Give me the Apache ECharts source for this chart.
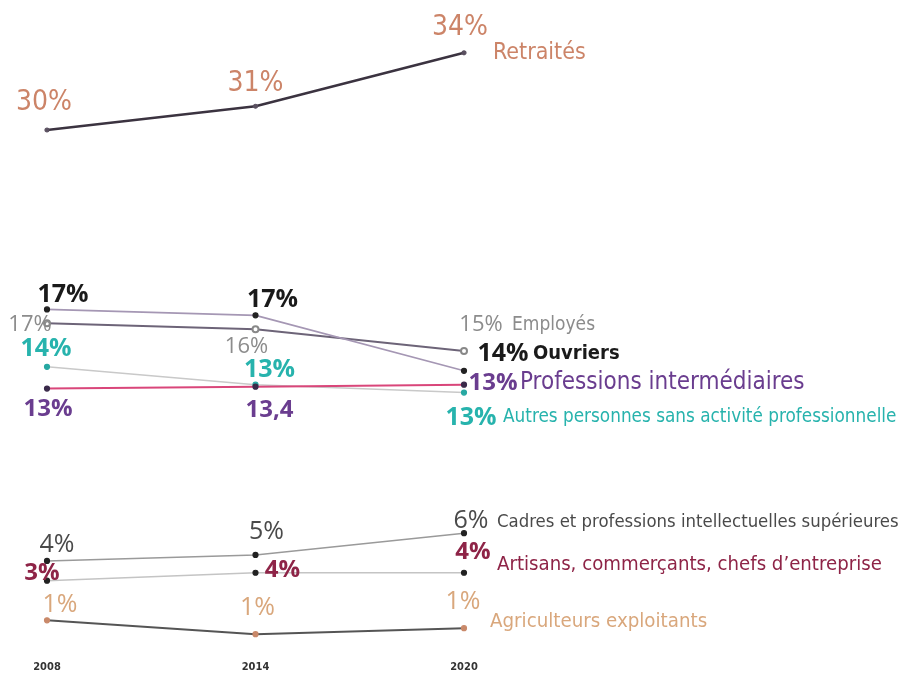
<!DOCTYPE html>
<html><head><meta charset="utf-8">
<script src="https://cdn.jsdelivr.net/npm/echarts@6/dist/echarts.min.js"></script>
<style>html,body{margin:0;padding:0;background:#fff}#c{width:912px;height:683px}</style>
</head><body><div id="c"></div>
<script>
// ---- data ----
const years = ['2008', '2014', '2020'];
const retraites = [30.0, 31.2, 33.9];
const retraitesLabels = ['30%', '31%', '34%'];
const ouvriers = [17.1, 16.8, 14.0];
const ouvriersLabels = ['17%', '17%', '14%'];
const employes = [16.4, 16.1, 15.0];
const employesLabels = ['17%', '16%', '15%'];
const autres = [14.2, 13.3, 12.9];
const autresLabels = ['14%', '13%', '13%'];
const profInter = [13.1, 13.2, 13.3];
const profInterLabels = ['13%', '13,4', '13%'];
const cadres = [4.4, 4.7, 5.8];
const cadresLabels = ['4%', '5%', '6%'];
const artisans = [3.4, 3.8, 3.8];
const artisansLabels = ['3%', '4%', '4%'];
const agriculteurs = [1.4, 0.7, 1.0];
const agriculteursLabels = ['1%', '1%', '1%'];

// ---- style ----
const NARROW = "'Liberation Sans Narrow','DejaVu Sans Condensed','Roboto Condensed',Roboto,sans-serif";
const SANS = "'Open Sans','Noto Sans',sans-serif";

function mk(name, data, labels, o) {
  return {
    name: name, type: 'line', xAxisIndex: o.grid, yAxisIndex: o.grid,
    data: data.map((v, i) => ({
      value: v,
      label: {
        show: true, position: 'inside', formatter: labels[i],
        offset: o.offsets[i], color: o.numColor, fontSize: o.numSize,
        fontWeight: o.numWeight, fontFamily: o.numFont
      }
    })),
    symbol: o.symbol || 'circle', symbolSize: o.symbolSize || 5,
    itemStyle: { color: o.dotColor, borderColor: o.dotColor, borderWidth: 1.2 },
    lineStyle: { color: o.lineColor, width: o.lineWidth || 1.5 },
    endLabel: {
      show: true, formatter: name, offset: o.nameOffset, color: o.nameColor || o.numColor,
      fontSize: o.nameSize, fontWeight: o.nameWeight || 'normal', fontFamily: NARROW
    },
    silent: true, animation: false, z: o.z || 2
  };
}

const series = [
  mk('Retraités', retraites, retraitesLabels, {
    grid: 0, offsets: [[-3, -27], [0, -23], [-4, -25]], numColor: '#cc8468', numSize: 28,
    numWeight: 'normal', numFont: NARROW, dotColor: '#5a5060', lineColor: '#3b3340', lineWidth: 2.5,
    nameOffset: [21, 0], nameSize: 23, symbolSize: 4
  }),
  mk('Ouvriers', ouvriers, ouvriersLabels, {
    grid: 1, offsets: [[16, -15], [17, -15], [39, -17]], numColor: '#1a1a1a', numSize: 25,
    numWeight: 'bold', numFont: SANS, dotColor: '#222', lineColor: '#a597b4', lineWidth: 1.6,
    nameOffset: [61, -17], nameSize: 20, nameWeight: 'bold', z: 4
  }),
  mk('Employés', employes, employesLabels, {
    grid: 1, offsets: [[-17, 1], [-9, 18], [17, -26]], numColor: '#8c8c8c', numSize: 22,
    numWeight: 'normal', numFont: SANS, dotColor: '#888', lineColor: '#6d6478', lineWidth: 2,
    symbol: 'emptyCircle', symbolSize: 6, nameOffset: [40, -26], nameSize: 19, z: 3
  }),
  mk('Autres personnes sans activité professionnelle', autres, autresLabels, {
    grid: 1, offsets: [[-1, -18], [14, -15], [7, 25]], numColor: '#27b3ad', numSize: 25,
    numWeight: 'bold', numFont: SANS, dotColor: '#27a8a2', lineColor: '#c9c9c9', lineWidth: 1.5,
    nameOffset: [31, 25], nameSize: 18.8
  }),
  mk('Professions intermédiaires', profInter, profInterLabels, {
    grid: 1, offsets: [[1, 21], [14, 24], [29, -2]], numColor: '#6a3d8f', numSize: 24,
    numWeight: 'bold', numFont: SANS, dotColor: '#3a2a4a', lineColor: '#d9467a', lineWidth: 2,
    nameOffset: [48, -2], nameSize: 24, z: 3
  }),
  mk('Cadres et professions intellectuelles supérieures', cadres, cadresLabels, {
    grid: 1, offsets: [[10, -16], [11, -23], [7, -12]], numColor: '#4a4a4a', numSize: 25,
    numWeight: 'normal', numFont: SANS, dotColor: '#222', lineColor: '#9a9a9a', lineWidth: 1.5,
    nameOffset: [25, -11], nameSize: 18.4
  }),
  mk("Artisans, commerçants, chefs d\u2019entreprise", artisans, artisansLabels, {
    grid: 1, offsets: [[-5, -8], [27, -3], [9, -21]], numColor: '#8e2447', numSize: 24,
    numWeight: 'bold', numFont: SANS, dotColor: '#222', lineColor: '#c4c4c4', lineWidth: 1.5,
    nameOffset: [25, -8], nameSize: 20.2
  }),
  mk('Agriculteurs exploitants', agriculteurs, agriculteursLabels, {
    grid: 1, offsets: [[13, -15], [2, -26], [-1, -26]], numColor: '#d9a77c', numSize: 25,
    numWeight: 'normal', numFont: SANS, dotColor: '#c9896a', lineColor: '#555', lineWidth: 2,
    nameOffset: [18, -6], nameSize: 20.3
  })
];

const chart = echarts.init(document.getElementById('c'), null, { renderer: 'canvas' });
chart.setOption({
  backgroundColor: '#fff',
  animation: false,
  grid: [
    { left: 47, width: 417, top: 11.2, height: 158.4 },
    { left: 47, width: 417, top: 291.6, height: 356.4 }
  ],
  xAxis: [
    { gridIndex: 0, type: 'category', data: years, boundaryGap: false, show: false },
    { gridIndex: 1, type: 'category', data: years, boundaryGap: false,
      axisLine: { show: false }, axisTick: { show: false }, splitLine: { show: false },
      axisLabel: { margin: 14, color: '#333', fontSize: 11, fontWeight: 'bold', fontFamily: NARROW } }
  ],
  yAxis: [
    { gridIndex: 0, type: 'value', min: 28, max: 36, show: false, splitLine: { show: false } },
    { gridIndex: 1, type: 'value', min: 0, max: 18, show: false, splitLine: { show: false } }
  ],
  series: series
});
</script>
</body></html>
